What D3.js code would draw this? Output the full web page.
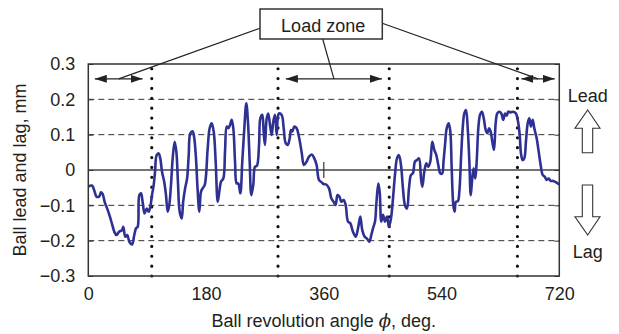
<!DOCTYPE html>
<html><head><meta charset="utf-8">
<script src="https://cdn.jsdelivr.net/npm/d3@7"></script>
<style>
body{margin:0;background:#fff}
text{font-family:"Liberation Sans",Arial,Helvetica,sans-serif;fill:#231f20}
</style>
</head><body><svg id="c" width="619" height="334"></svg>
<script>
// ---- data ----
const angles = [0,5.6,9,12.8,17,19.4,22,25,29.6,33,36,39.8,43,47,51.5,53.5,56.6,59.6,62.7,66.8,70.3,73,75.5,78,80.6,83,86,89.3,92.3,94.8,97.4,100,102,104.5,107.6,110,112.7,116,118.8,121.3,123.8,126.4,129,132,134.6,137,139.7,142.8,145,148,151,153.5,156,159.6,162,164.6,167,169.7,172.3,174.8,178,
182.5,185.5,188.6,191.7,194.7,197.8,200.3,202.8,206.4,209,211.6,214,216.6,219.2,221.7,224.3,226.8,229.3,232.4,235.4,238.5,241.5,244,246.7,249.2,252.2,254.8,257.8,261,263,266,268,270,272.7,275,277.8,280.3,282.8,285.4,288,289.5,291.5,295.6,298.7,301.7,304.8,307.9,309.8,311.8,315,318.5,322,326,329.7,333.8,337.4,341.5,345.5,349,352.6,356.8,360,
363.8,368,371.5,375,378,381,384,386.8,390.4,393.4,397,400.5,404.6,408.8,412.3,415.8,418.8,422.5,426,429.6,432.6,435.2,438.3,440.2,443.3,445.4,447.9,450.5,453.5,456.6,459.6,462.7,465.8,468.8,471.9,474.9,478,481,484,487.2,490.2,493.3,496.3,499.4,502.4,505.5,508.6,510.6,513.6,516.7,519.7,522.8,525.8,528.9,532,535,538,541,
543,545.3,547.9,550.9,553.4,555.5,558,560,562,565,567.2,570,572.3,574.8,577.4,580,582.5,584.6,586.5,589,591.6,593.7,596.2,598.8,601.8,604.9,607.5,610,612.5,615,617.6,620.2,622.7,625.2,628.3,631.3,634.4,637,639.6,642,645.7,649.7,653.8,656.9,659.5,661.4,664,666.5,669,671.7,674.1,676.7,679.3,681.8,685.4,688.5,691.5,694.6,697.7,700.7,703.8,706.8,710.8,715,720];
const leadLag = [-0.047,-0.044,-0.057,-0.076,-0.074,-0.063,-0.068,-0.09,-0.113,-0.132,-0.151,-0.175,-0.184,-0.175,-0.17,-0.161,-0.189,-0.184,-0.203,-0.211,-0.184,-0.165,-0.161,-0.071,-0.066,-0.09,-0.123,-0.109,-0.118,-0.104,-0.071,-0.042,-0.005,0.042,0.047,0.033,-0.005,-0.033,-0.071,-0.118,-0.099,-0.042,0.033,0.080,0.052,-0.033,-0.118,-0.137,-0.09,-0.052,-0.024,0.042,0.104,0.109,0.090,0.033,-0.052,-0.118,-0.061,-0.052,-0.042,
0.061,0.118,0.132,0.109,0.024,-0.09,-0.061,-0.033,-0.024,0.052,0.123,0.118,0.127,0.142,0.118,0.024,-0.038,-0.038,-0.066,0.024,0.118,0.189,0.138,0.024,-0.071,-0.042,0.009,0.012,0.071,0.146,0.156,0.109,0.071,0.146,0.160,0.127,0.099,0.137,0.156,0.099,0.146,0.160,0.156,0.118,0.076,0.071,0.090,0.113,0.109,0.123,0.118,0.094,0.052,0.014,0.024,0.038,0.044,0.033,0.014,-0.028,-0.035,-0.040,
-0.041,-0.052,-0.080,-0.090,-0.099,-0.071,-0.076,-0.09,-0.085,-0.099,-0.146,-0.151,-0.175,-0.189,-0.165,-0.132,-0.170,-0.189,-0.194,-0.203,-0.184,-0.165,-0.146,-0.099,-0.038,-0.061,-0.146,-0.127,-0.146,-0.132,-0.161,-0.137,-0.080,-0.014,0.033,0.042,0.014,-0.052,-0.099,-0.109,-0.052,-0.014,-0.009,0.024,0.028,0.033,-0.024,-0.047,-0.005,0.019,0.009,0.024,0.080,0.057,0.042,0.014,-0.009,-0.010,
0.024,0.071,0.118,0.132,0.109,0.005,-0.099,-0.118,-0.090,-0.088,-0.061,0.042,0.118,0.160,0.170,0.118,0.024,-0.071,-0.033,0.005,-0.024,0.024,0.118,0.156,0.165,0.142,0.113,0.104,0.118,0.109,0.080,0.057,0.132,0.160,0.165,0.160,0.142,0.160,0.154,0.165,0.163,0.165,0.160,0.137,0.099,0.047,0.028,0.033,0.080,0.132,0.146,0.123,0.142,0.118,0.090,0.052,0.014,-0.014,-0.019,-0.028,-0.024,-0.031,-0.031,-0.035,-0.041];
const xTicks = [0,180,360,540,720];
const yTicks = [-0.3,-0.2,-0.1,0,0.1,0.2,0.3];
const yTickLabels = ["\u22120.3","\u22120.2","\u22120.1","0","0.1","0.2","0.3"];
const dashedLevels = [-0.2,-0.1,0.1,0.2];
const zoneBoundaries = [97,290,460,656];
const zoneArrows = [[10,83],[302,449],[662,713]];
const arrowLevel = 0.258;
const markAngle = 360;
const xTitle = "Ball revolution angle ";
const yTitle = "Ball lead and lag, mm";
const boxLabel = "Load zone";

// ---- layout ----
const W = 619, H = 334;
const L = 88.3, R = 559.3, T = 64, B = 276;
const svg = d3.select("#c");
const x = d3.scaleLinear().domain([0,720]).range([L,R]);
const y = d3.scaleLinear().domain([-0.3,0.3]).range([B,T]);
const ink = "#231f20";

// gridlines
svg.append("g").selectAll("line").data(dashedLevels).join("line")
  .attr("x1",L).attr("x2",R).attr("y1",d=>y(d)).attr("y2",d=>y(d))
  .attr("stroke","#333").attr("stroke-width",1).attr("stroke-dasharray","6,4");
svg.append("line").attr("x1",L).attr("x2",R).attr("y1",y(0)).attr("y2",y(0))
  .attr("stroke","#444").attr("stroke-width",1.4);

// zone boundaries (dotted)
svg.append("g").selectAll("line").data(zoneBoundaries).join("line")
  .attr("x1",d=>x(d)).attr("x2",d=>x(d)).attr("y1",B).attr("y2",T+3)
  .attr("stroke","#111").attr("stroke-width",3.2).attr("stroke-linecap","round")
  .attr("stroke-dasharray","0,9.87");

// small marker at 360
svg.append("line").attr("x1",x(markAngle)).attr("x2",x(markAngle))
  .attr("y1",y(0)-8).attr("y2",y(0)+8).attr("stroke","#333").attr("stroke-width",1.2);

// data line
const line = d3.line().x((d,i)=>x(angles[i])).y(d=>y(d)).curve(d3.curveCatmullRom.alpha(0.5));
svg.append("path").datum(leadLag).attr("d",line).attr("fill","none")
  .attr("stroke","#2f3192").attr("stroke-width",2.6).attr("stroke-linejoin","round");

// frame
svg.append("rect").attr("x",L).attr("y",T).attr("width",R-L).attr("height",B-T)
  .attr("fill","none").attr("stroke","#333").attr("stroke-width",1.5);

// axes
const yAx = svg.append("g").attr("transform",`translate(${L},0)`)
  .call(d3.axisLeft(y).tickValues(yTicks).tickSize(-5).tickPadding(13).tickFormat((d,i)=>yTickLabels[i]));
const yAxR = svg.append("g").attr("transform",`translate(${R},0)`)
  .call(d3.axisRight(y).tickValues(yTicks).tickSize(-5).tickFormat(""));
const xAx = svg.append("g").attr("transform",`translate(0,${B})`)
  .call(d3.axisBottom(x).tickValues(xTicks).tickSize(0).tickPadding(10).tickFormat(d3.format("d")));
[yAx,yAxR,xAx].forEach(g=>{
  g.select(".domain").remove();
  g.selectAll("line").attr("stroke","#333");
  g.selectAll("text").attr("font-size",18).attr("fill",ink).attr("font-family",null);
});
xAx.selectAll("text").attr("dy","0.75em");

// axis titles
const xt = svg.append("text").attr("x",(x(0)+x(720))/2+0).attr("y",327).attr("text-anchor","middle").attr("font-size",18);
xt.append("tspan").text(xTitle);
xt.append("tspan").attr("font-style","italic").attr("font-family","DejaVu Serif, serif").text("\u03d5");
xt.append("tspan").text(", deg.");
svg.append("text").attr("transform",`translate(26,${(T+B)/2}) rotate(-90)`)
  .attr("text-anchor","middle").attr("font-size",18).text(yTitle);

// zone arrows
const defs = svg.append("defs");
defs.append("marker").attr("id","ah").attr("viewBox","0 0 12 8").attr("refX",12).attr("refY",4)
  .attr("markerWidth",12).attr("markerHeight",8).attr("markerUnits","userSpaceOnUse").attr("orient","auto-start-reverse")
  .append("path").attr("d","M0,0L12,4L0,8Z").attr("fill","#222");
svg.append("g").selectAll("line").data(zoneArrows).join("line")
  .attr("x1",d=>x(d[0])).attr("x2",d=>x(d[1])).attr("y1",y(arrowLevel)).attr("y2",y(arrowLevel))
  .attr("stroke","#222").attr("stroke-width",1.3)
  .attr("marker-start","url(#ah)").attr("marker-end","url(#ah)");

// callout box and leader lines
const box = {x0:260,x1:382.3,y0:9,y1:39};
const anchors = [[box.x0,28.3],[322.7,box.y1],[box.x1,23.3]];
svg.append("g").selectAll("line").data(zoneArrows).join("line")
  .attr("x1",(d,i)=>anchors[i][0]).attr("y1",(d,i)=>anchors[i][1])
  .attr("x2",d=>x((d[0]+d[1])/2)).attr("y2",y(arrowLevel))
  .attr("stroke","#222").attr("stroke-width",1.2);
svg.append("rect").attr("x",box.x0).attr("y",box.y0).attr("width",box.x1-box.x0).attr("height",box.y1-box.y0)
  .attr("fill","#fff").attr("stroke","#333").attr("stroke-width",1.5);
svg.append("text").attr("x",(box.x0+box.x1)/2+2).attr("y",31.5).attr("text-anchor","middle").attr("font-size",18).text(boxLabel);

// Lead / Lag indicators
const cx = 587.7;
svg.append("text").attr("x",cx).attr("y",101.5).attr("text-anchor","middle").attr("font-size",18).text("Lead");
svg.append("text").attr("x",cx).attr("y",258).attr("text-anchor","middle").attr("font-size",18).text("Lag");
const up = [[cx,110],[600,128.3],[592.7,128.3],[592.7,152.7],[582.3,152.7],[582.3,128.3],[575,128.3]];
const dn = [[cx,235],[600,216.7],[592.7,216.7],[592.7,185],[582.3,185],[582.3,216.7],[575,216.7]];
[up,dn].forEach(p=>svg.append("path").attr("d",d3.line()(p)+"Z").attr("fill","#fff").attr("stroke","#333").attr("stroke-width",1.1));
</script>
</body></html>
